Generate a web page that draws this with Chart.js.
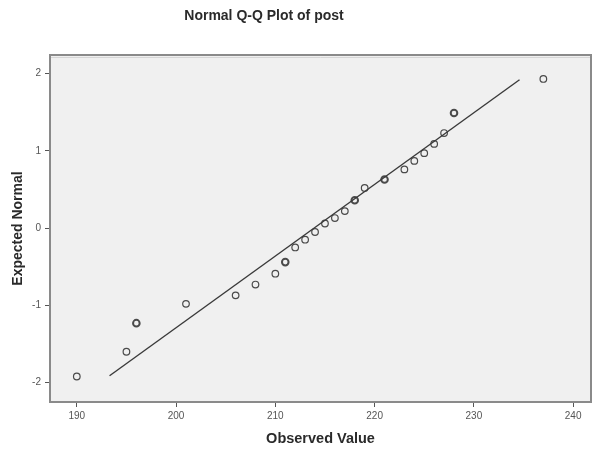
<!DOCTYPE html>
<html>
<head>
<meta charset="utf-8">
<script src="https://cdn.jsdelivr.net/npm/chart.js@4/dist/chart.umd.min.js"></script>
<style>
  html, body { margin: 0; padding: 0; background: #fff; }
  #wrap { width: 594px; height: 449px; }
</style>
</head>
<body>
<div id="wrap"><canvas id="chart" width="594" height="449"></canvas></div>
<script>
// observed values (x) and expected normal quantiles (y)
const observed = [190, 195, 196, 201, 206, 208, 210, 211, 212, 213, 214, 215, 216, 217, 218, 219, 221, 223, 224, 225, 226, 227, 228, 237];
const expected = [-1.92, -1.60, -1.23, -0.98, -0.87, -0.73, -0.59, -0.44, -0.25, -0.15, -0.05, 0.06, 0.13, 0.22, 0.36, 0.52, 0.63, 0.76, 0.87, 0.97, 1.09, 1.23, 1.49, 1.93];
// values that occur more than once (drawn heavier)
const tiedValues = [196, 211, 218, 221, 228];
// reference line end points
const lineX = [193.3, 234.6];
const lineY = [-1.91, 1.92];

const xTicks = [190, 200, 210, 220, 230, 240];
const yTicks = [-2, -1, 0, 1, 2];

const TITLE = 'Normal Q-Q Plot of post';
const FONT = "Arial, 'Liberation Sans', sans-serif";

const points = observed.map((x, i) => ({ x, y: expected[i] }));
const linePts = lineX.map((x, i) => ({ x, y: lineY[i] }));

// plot frame and background, like SPSS output
const framePlugin = {
    id: 'frame',
    beforeDatasetsDraw(chart) {
        const { ctx, chartArea: a } = chart;
        ctx.save();
        ctx.fillStyle = '#f0f0f0';
        ctx.fillRect(a.left, a.top, a.right - a.left, a.bottom - a.top);
        ctx.strokeStyle = '#8a8a8a';
        ctx.lineWidth = 2;
        ctx.strokeRect(a.left, a.top, a.right - a.left, a.bottom - a.top);
        ctx.strokeStyle = '#d6d6d6';
        ctx.lineWidth = 1;
        ctx.beginPath();
        ctx.moveTo(a.left + 1, a.top + 2.5);
        ctx.lineTo(a.right - 1, a.top + 2.5);
        ctx.stroke();
        ctx.restore();
    },
    // SPSS puts the title a bit left of the plot centre
    afterDraw(chart) {
        const { ctx } = chart;
        ctx.save();
        ctx.fillStyle = '#2a2a2a';
        ctx.font = `bold 14px ${FONT}`;
        ctx.textAlign = 'center';
        ctx.textBaseline = 'middle';
        ctx.fillText(TITLE, 264, 16);
        ctx.restore();
    }
};

new Chart(document.getElementById('chart'), {
    type: 'scatter',
    data: {
        datasets: [
            {
                label: 'line',
                data: linePts,
                showLine: true,
                borderColor: '#3a3a3a',
                borderWidth: 1.4,
                pointRadius: 0,
                fill: false
            },
            {
                label: 'post',
                data: points,
                pointStyle: 'circle',
                pointRadius: 3.3,
                backgroundColor: 'rgba(0,0,0,0)',
                borderColor: '#4a4a4a',
                pointBorderWidth: observed.map(v => tiedValues.includes(v) ? 2 : 1.2)
            }
        ]
    },
    options: {
        responsive: false,
        animation: false,
        events: [],
        layout: { autoPadding: false, padding: { top: 55, right: 3, bottom: 0, left: 0 } },
        plugins: {
            legend: { display: false },
            tooltip: { enabled: false },
            title: { display: false }
        },
        scales: {
            x: {
                type: 'linear',
                min: 187.3,
                max: 241.8,
                afterFit: s => { s.height = 47; s.paddingLeft = 0; s.paddingRight = 0; },
                afterBuildTicks: s => { s.ticks = xTicks.map(v => ({ value: v })); },
                grid: { drawOnChartArea: false, drawTicks: true, tickLength: 5, color: '#555', lineWidth: 1 },
                border: { display: false },
                ticks: { color: '#555', padding: 3, font: { family: FONT, size: 10 }, maxRotation: 0 },
                title: {
                    display: true,
                    text: 'Observed Value',
                    color: '#2a2a2a',
                    font: { family: FONT, size: 14.5, weight: 'bold', lineHeight: 1.2 },
                    padding: { top: 0, bottom: 1.5 }
                }
            },
            y: {
                type: 'linear',
                min: -2.25,
                max: 2.24,
                afterFit: s => { s.width = 50; s.paddingTop = 0; s.paddingBottom = 0; },
                afterBuildTicks: s => { s.ticks = yTicks.map(v => ({ value: v })); },
                grid: { drawOnChartArea: false, drawTicks: true, tickLength: 5, color: '#555', lineWidth: 1 },
                border: { display: false },
                ticks: { color: '#555', padding: 4, font: { family: FONT, size: 10 } },
                title: {
                    display: true,
                    text: 'Expected Normal',
                    color: '#2a2a2a',
                    font: { family: FONT, size: 14, weight: 'bold', lineHeight: 1.2 },
                    padding: { top: 10, bottom: 0 }
                }
            }
        }
    },
    plugins: [framePlugin]
});
</script>
</body>
</html>
